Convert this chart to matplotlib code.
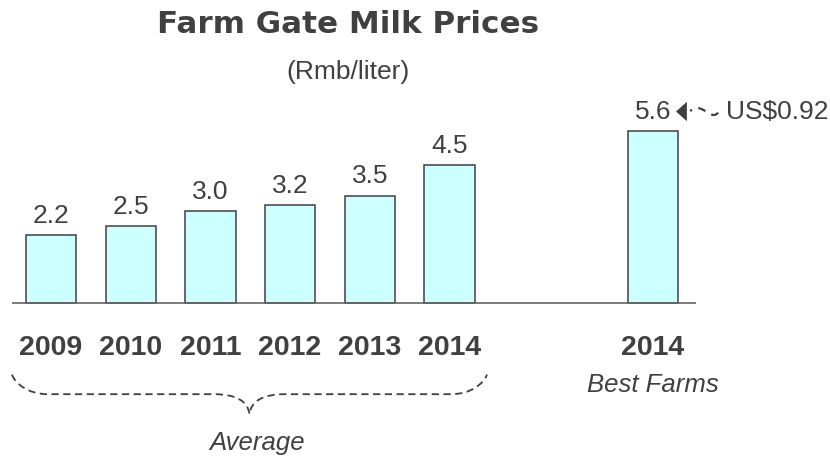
import matplotlib
matplotlib.use("Agg")
import matplotlib.pyplot as plt
from matplotlib.path import Path
from matplotlib.patches import PathPatch

plt.rcParams["font.family"] = ["Liberation Sans", "DejaVu Sans"]

# data
years = ["2009", "2010", "2011", "2012", "2013", "2014"]
prices = [2.2, 2.5, 3.0, 3.2, 3.5, 4.5]
best_label = "2014"
best_price = 5.6
usd_note = "US$0.92"
title = "Farm Gate Milk Prices"
subtitle = "(Rmb/liter)"

txt = "#404040"
fill = "#ccffff"
edge = "#404040"

xs = list(range(len(years)))
x_best = 7.55
w = 0.63

fig = plt.figure(figsize=(8.3, 4.6), dpi=100)
ax = fig.add_axes([0, 0, 1, 1])
ax.set_xlim(-0.64, 9.774)
ax.set_ylim(-5.081, 9.902)
ax.axis("off")

# bars
ax.bar(xs, prices, width=w, color=fill, edgecolor=edge, linewidth=1.1, zorder=2)
ax.bar([x_best], [best_price], width=w, color=fill, edgecolor=edge, linewidth=1.1, zorder=2)
ax.hlines(0, -0.49, 8.09, color="#666666", linewidth=1.2, zorder=3)

# value labels
for x, v in zip(xs + [x_best], prices + [best_price]):
    ax.annotate(f"{v:.1f}", (x, v), xytext=(0, 14.5), textcoords="offset points",
                ha="center", va="center", fontsize=19, color=txt)

# year labels
for x, lab in zip(xs + [x_best], years + [best_label]):
    ax.text(x, -1.43, lab, ha="center", va="center", fontsize=20.5,
            fontweight="bold", color=txt)

# title
ax.text(3.73, 9.12, title, ha="center", va="center", fontsize=22.3,
        fontweight="heavy", family="DejaVu Sans", color=txt)
ax.text(3.73, 7.56, subtitle, ha="center", va="center", fontsize=19, color=txt)

# brace under the averages
l, r = xs[0] - 0.49, xs[-1] + 0.47
m = (l + r) / 2
yt, yh, yb = -2.33, -2.97, -3.62
verts = [(l, yt), (l + 0.04, yh + 0.35), (l + 0.2, yh), (l + 0.45, yh),
         (m - 0.45, yh),
         (m - 0.15, yh), (m - 0.02, yh - 0.25), (m, yb),
         (m + 0.02, yh - 0.25), (m + 0.15, yh), (m + 0.45, yh),
         (r - 0.45, yh),
         (r - 0.2, yh), (r - 0.04, yh + 0.35), (r, yt)]
codes = [Path.MOVETO, Path.CURVE4, Path.CURVE4, Path.CURVE4,
         Path.LINETO,
         Path.CURVE4, Path.CURVE4, Path.CURVE4,
         Path.CURVE4, Path.CURVE4, Path.CURVE4,
         Path.LINETO,
         Path.CURVE4, Path.CURVE4, Path.CURVE4]
ax.add_patch(PathPatch(Path(verts, codes), facecolor="none", edgecolor="#404040",
                       linewidth=1.3, linestyle=(0, (4, 2.5))))
ax.text(m + 0.09, -4.53, "Average", ha="center", va="center", fontsize=18.5,
        style="italic", color=txt)
ax.text(x_best, -2.65, "Best Farms", ha="center", va="center", fontsize=18.5,
        style="italic", color=txt)

# arrow to the US$ note
ya = best_price + 0.65
tilde = Path([(8.37, ya - 0.05), (8.27, ya - 0.35), (8.17, ya + 0.35), (8.02, ya)],
             [Path.MOVETO, Path.CURVE4, Path.CURVE4, Path.CURVE4])
ax.add_patch(PathPatch(tilde, facecolor="none", edgecolor="#404040",
                       linewidth=1.6, linestyle=(0, (3.5, 3))))
ax.plot([7.935], [ya], marker=[(-1, 0), (0.45, -1.3), (0.45, 1.3)], markersize=14,
        color="#404040", markeredgewidth=0, linestyle="none")
ax.text(8.47, ya, usd_note, ha="left", va="center", fontsize=19, color=txt)

fig.savefig("out.png", dpi=100)
